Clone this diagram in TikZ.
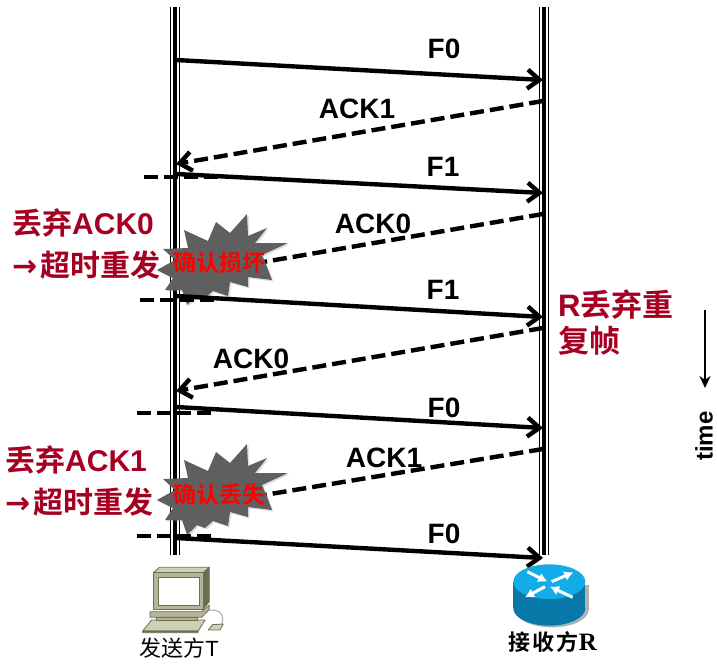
\documentclass[tikz,border=0pt]{standalone}
\usepackage{fontspec}
\usetikzlibrary{arrows.meta,shadows}
\setmainfont{Liberation Sans}
\newfontfamily\cjk{Noto Sans CJK SC}[BoldFont={Noto Sans CJK SC Bold}]
\definecolor{darkred}{HTML}{A50021}
\definecolor{burstgray}{HTML}{5F5F5F}
\definecolor{pcbody}{HTML}{B5B59A}
\definecolor{pcdark}{HTML}{6E6E55}
\definecolor{pclight}{HTML}{CFCFB8}
\definecolor{rtop}{HTML}{12ACE8}
\definecolor{rside}{HTML}{0878A8}
\tikzset{
  msg/.style={line width=4.4pt,-{Straight Barb[length=12pt,width=19pt,line width=4.4pt]}},
  ackmsg/.style={msg,dash pattern=on 14pt off 6pt},
  ackend/.style={line width=4.4pt,dash pattern=on 14pt off 6pt},
  tick/.style={line width=3.4pt,dash pattern=on 14pt off 6pt},
  lab/.style={font=\fontsize{28}{30}\selectfont\bfseries,text=black,inner sep=0pt},
  note/.style={font=\fontsize{30}{42}\selectfont\cjk\bfseries,text=darkred,inner sep=0pt,align=left},
  burstlab/.style={font=\fontsize{23}{25}\selectfont\cjk\bfseries,text=red,inner sep=0pt},
  devlab/.style={font=\fontsize{22}{24}\selectfont\cjk,text=black,inner sep=0pt},
  burst/.style={fill=burstgray,draw=none,drop shadow={shadow xshift=1.5pt,shadow yshift=-1.5pt,opacity=.25}},
  outline/.style={draw=pcdark,line width=.8pt,line join=round},
}
\newcommand{\lifeline}[2]{%
  \draw[line width=1.6pt] ([xshift=-4.5pt]#1) -- ([xshift=-4.5pt]#2);
  \draw[line width=3.4pt] (#1) -- (#2);
  \draw[line width=1.6pt] ([xshift=4.5pt]#1) -- ([xshift=4.5pt]#2);
}
\newcommand{\burstshape}[2]{%
  \draw[burst,shift={(#1,#2)}]
    (184,60)--(208,71)--(216,52)--(230,63)--(247,44)--(248,66)--(267,58)--(255,73)--(288,73)
    --(262,85)--(267,97)--(272,110)--(248,107)--(248,117)--(230,112)--(228,126)--(213,121)
    --(205,128)--(197,125)--(187,135)--(182,120)--(165,120)--(173,108)--(157,100)--(175,90)
    --(163,79)--(188,78)--cycle;
}
\newcommand{\arrowch}{{\fontspec{DejaVu Sans}\bfseries\fontsize{30}{42}\selectfont →}\hspace{3pt}}
\begin{document}
\begin{tikzpicture}[x=1pt,y=-1pt]
\useasboundingbox (0,0) rectangle (717,666);
% lifelines
\coordinate (Ltop) at (175,7); \coordinate (Lbot) at (175,555);
\coordinate (Rtop) at (544,7); \coordinate (Rbot) at (544,555);
\lifeline{Ltop}{Lbot}
\lifeline{Rtop}{Rbot}
% end points
\coordinate (a1) at (176,60);  \coordinate (b1) at (543,80);
\coordinate (a2) at (543,101); \coordinate (b2) at (176,164);
\coordinate (a3) at (176,174); \coordinate (b3) at (543,193);
\coordinate (a4) at (543,214); \coordinate (b4) at (240,266);
\coordinate (a5) at (176,296); \coordinate (b5) at (543,317);
\coordinate (a6) at (543,328); \coordinate (b6) at (176,391);
\coordinate (a7) at (176,407); \coordinate (b7) at (543,428);
\coordinate (a8) at (543,449); \coordinate (b8) at (240,499);
\coordinate (a9) at (176,538); \coordinate (b9) at (543,558);
% acks
\draw[ackmsg] (a2) -- (b2);
\draw[ackend] (a4) -- (b4);
\draw[ackmsg] (a6) -- (b6);
\draw[ackend] (a8) -- (b8);
% bursts
\burstshape{0}{170}
\burstshape{0}{400}
% frames
\draw[msg] (a1) -- (b1);
\draw[msg] (a3) -- (b3);
\draw[msg] (a5) -- (b5);
\draw[msg] (a7) -- (b7);
\draw[msg] (a9) -- (b9);
% timeout ticks
\coordinate (t1a) at (144,177); \coordinate (t1b) at (218,177);
\coordinate (t2a) at (140,300); \coordinate (t2b) at (215,300);
\coordinate (t3a) at (137,413); \coordinate (t3b) at (212,413);
\coordinate (t4a) at (137,536); \coordinate (t4b) at (212,536);
\draw[tick] (t1a) -- (t1b);
\draw[tick] (t2a) -- (t2b);
\draw[tick] (t3a) -- (t3b);
\draw[tick] (t4a) -- (t4b);
% labels
\node[lab] (l1) at (444,49) {F0};
\node[lab] (l2) at (357,109) {ACK1};
\node[lab] (l3) at (443,167) {F1};
\node[lab] (l4) at (373,224) {ACK0};
\node[lab] (l5) at (443,290) {F1};
\node[lab] (l6) at (251,359) {ACK0};
\node[lab] (l7) at (444,408) {F0};
\node[lab] (l8) at (384,458) {ACK1};
\node[lab] (l9) at (444,534) {F0};
\node[note,anchor=north west] (n1) at (12,208) {丢弃{\fontspec{Liberation Sans}\bfseries ACK0}\\\arrowch 超时重发};
\node[note,anchor=north west] (n2) at (5,445) {丢弃{\fontspec{Liberation Sans}\bfseries ACK1}\\\arrowch 超时重发};
\node[note,anchor=north west,font=\fontsize{31}{36}\selectfont\cjk\bfseries] (n3) at (558,290) {{\fontspec{Liberation Sans}\bfseries R}丢弃重\\复帧};
\node[burstlab] (bl1) at (219,263) {确认损坏};
\node[burstlab] (bl2) at (219,495) {确认丢失};
% time arrow
\coordinate (tA) at (705,310); \coordinate (tB) at (705,388);
\draw[line width=2.8pt,-{Stealth[length=12pt,width=11pt]}] (tA) -- (tB);
\node[font=\fontsize{24}{26}\selectfont\bfseries,rotate=90,inner sep=0pt] (tm) at (704,436) {time};
% computer
\begin{scope}[shift={(120,550)},x=.3333pt,y=-.3333pt]
  \draw[outline,fill=pclight] (68,243)--(95,210)--(255,210)--(235,243)--cycle;
  \draw[outline,fill=pcdark] (68,243)--(235,243)--(233,248)--(68,248)--cycle;
  \draw[outline,fill=pcbody] (90,185)--(245,185)--(268,165)--(268,178)--(245,202)--(90,202)--cycle;
  \draw[outline,fill=pcbody] (108,202)--(232,202)--(232,212)--(108,212)--cycle;
  \draw[outline,fill=pclight] (100,68)--(118,52)--(268,52)--(250,68)--cycle;
  \draw[outline,fill=pcdark] (250,68)--(268,52)--(268,155)--(250,177)--cycle;
  \draw[outline,fill=pcbody] (100,68) rectangle (250,177);
  \draw[draw=pcdark,line width=1pt,fill=white] (115,82) rectangle (238,165);
  \draw[gray!70,line width=1pt] (268,180) .. controls (300,178) and (315,195) .. (305,222);
  \draw[outline,fill=pclight] (265,240)--(277,224)--(310,222)--(300,240)--cycle;
\end{scope}
\node[devlab] (dT) at (179,648) {发送方{\fontspec{Liberation Sans}T}};
% router
\begin{scope}[shift={(490,540)},x=.3333pt,y=-.3333pt]
  \fill[gray!60] (76,135) rectangle (296,210);
  \fill[gray!60] (186,210) ellipse[x radius=110,y radius=52];
  \fill[rside] (70,125) rectangle (286,205);
  \fill[rside] (178,205) ellipse[x radius=108,y radius=52];
  \fill[rtop] (178,125) ellipse[x radius=108,y radius=52];
  \tikzset{rarrow/.style={white,line width=3pt,-{Latex[length=9pt,width=10pt]}}}
  \draw[rarrow] (112,95) -- (172,125);
  \draw[rarrow] (185,125) -- (250,97);
  \draw[rarrow] (165,140) -- (105,172);
  \draw[rarrow] (248,172) -- (180,140);
\end{scope}
\node[devlab,font=\fontsize{22}{24}\selectfont\cjk\bfseries] (dR) at (553,642) {接\hspace{2pt}收\hspace{2pt}方{\fontspec{Liberation Serif}\fontsize{25}{26}\selectfont R}};
\end{tikzpicture}
\end{document}
